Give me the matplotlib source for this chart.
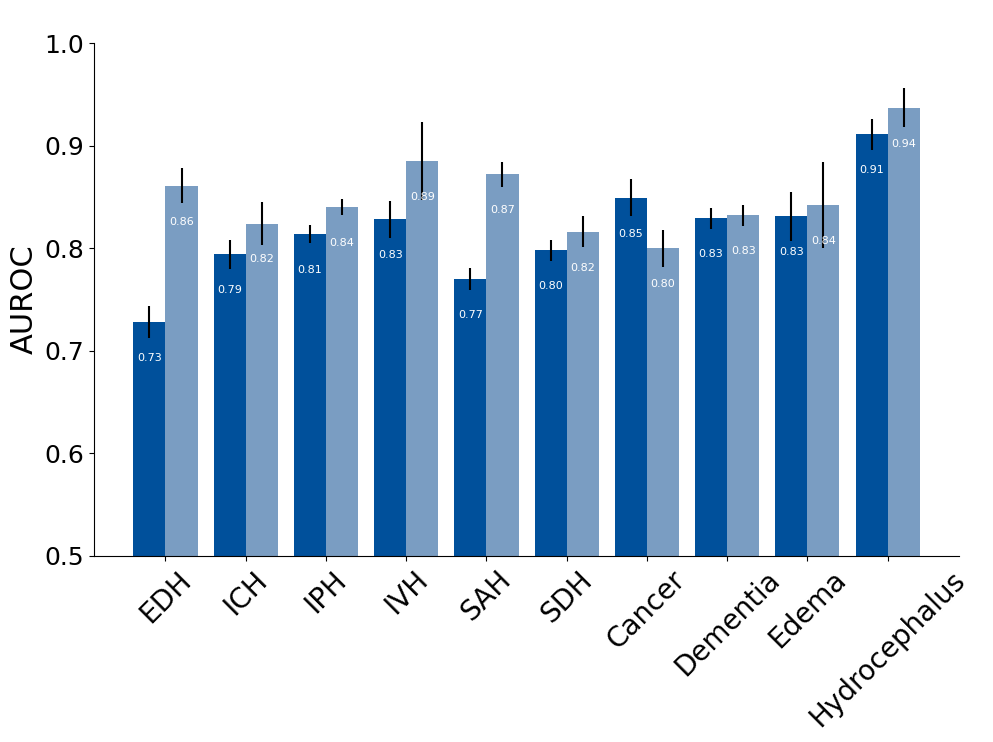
import numpy as np
import matplotlib.pyplot as plt

categories = ['EDH', 'ICH', 'IPH', 'IVH', 'SAH', 'SDH', 'Cancer', 'Dementia', 'Edema', 'Hydrocephalus']
model_a = [0.728, 0.794, 0.814, 0.828, 0.770, 0.798, 0.849, 0.829, 0.831, 0.911]
model_a_err = [0.016, 0.014, 0.009, 0.018, 0.011, 0.010, 0.018, 0.010, 0.024, 0.015]
model_b = [0.861, 0.824, 0.840, 0.885, 0.872, 0.816, 0.800, 0.832, 0.842, 0.937]
model_b_err = [0.017, 0.021, 0.008, 0.038, 0.012, 0.015, 0.018, 0.010, 0.042, 0.019]

dark = '#00509b'
light = '#7a9dc2'
width = 0.4

fig, ax = plt.subplots(figsize=(9.93, 7.42), dpi=100)
fig.subplots_adjust(left=0.0947, right=0.9658, bottom=0.2507, top=0.942)

x = np.arange(len(categories))
ax.bar(x - width / 2, model_a, width, yerr=model_a_err, color=dark,
       error_kw=dict(elinewidth=1.5, capsize=0))
ax.bar(x + width / 2, model_b, width, yerr=model_b_err, color=light,
       error_kw=dict(elinewidth=1.5, capsize=0))

# value labels just below the top of each bar
for xs, vals in [(x - width / 2, model_a), (x + width / 2, model_b)]:
    for xi, v in zip(xs, vals):
        ax.text(xi, v - 0.035, f'{v:.2f}', ha='center', va='center',
                color='white', fontsize=8)

ax.set_ylim(0.5, 1.0)
ax.set_xticks(x)
ax.set_xticklabels(categories, rotation=45, fontsize=20)
ax.tick_params(axis='y', labelsize=18)
ax.set_ylabel('AUROC', fontsize=22)
ax.spines['top'].set_visible(False)
ax.spines['right'].set_visible(False)

fig.savefig('out.png')
